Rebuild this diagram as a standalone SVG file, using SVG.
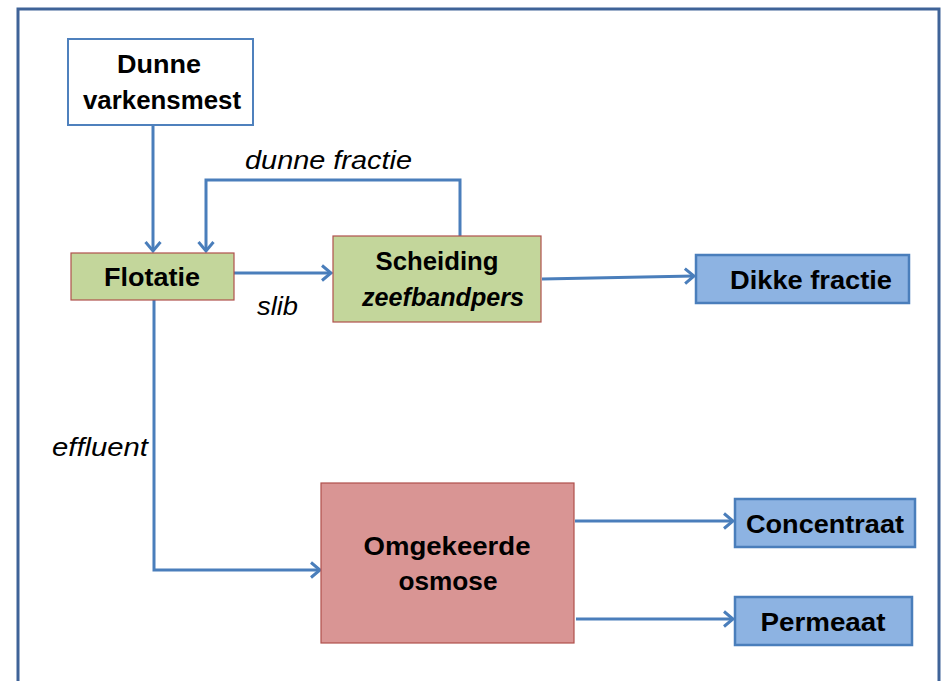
<svg xmlns="http://www.w3.org/2000/svg" width="941" height="681" viewBox="0 0 941 681">
<style>
.lbl{font-family:"Liberation Sans",Arial,sans-serif;font-weight:bold;font-size:25px;fill:#000;text-anchor:middle}
.it{font-family:"Liberation Sans",Arial,sans-serif;font-style:italic;font-size:25px;fill:#000}
.con{fill:none;stroke:#4a7ebb;stroke-width:3}
.green{fill:#c3d69b;stroke:#b0504c;stroke-width:1.2}
.blue{fill:#8db3e2;stroke:#4a7ebb;stroke-width:2.5}
</style>
<defs>
<marker id="arr" markerWidth="16" markerHeight="18" refX="12" refY="9" orient="auto" markerUnits="userSpaceOnUse">
<path d="M3,1.5 L12,9 L3,16.5" fill="none" stroke="#4a7ebb" stroke-width="3"/>
</marker>
</defs>
<rect x="0" y="0" width="941" height="681" fill="#fff"/>
<path d="M18,690 L18,9 L939,9 L939,690" fill="none" stroke="#3f6398" stroke-width="3"/>
<g id="connectors">
<path class="con" d="M153,125 L153,251" marker-end="url(#arr)"/>
<path class="con" d="M460,236 L460,180 L206,180 L206,251" marker-end="url(#arr)"/>
<path class="con" d="M234,273 L331,273" marker-end="url(#arr)"/>
<path class="con" d="M542,279 L694,276" marker-end="url(#arr)"/>
<path class="con" d="M154,300 L154,570 L320,570" marker-end="url(#arr)"/>
<path class="con" d="M575,521 L733,521" marker-end="url(#arr)"/>
<path class="con" d="M576,619 L733,619" marker-end="url(#arr)"/>
<text class="it" x="245" y="169" textLength="167" lengthAdjust="spacingAndGlyphs">dunne fractie</text>
<text class="it" x="257" y="315" textLength="41" lengthAdjust="spacingAndGlyphs">slib</text>
<text class="it" x="52" y="456" textLength="96" lengthAdjust="spacingAndGlyphs">effluent</text>
</g>
<g id="dunne-varkensmest">
<rect x="68" y="39" width="185" height="86" fill="#fff" stroke="#4f81bd" stroke-width="2"/>
<text class="lbl" x="159" y="73" textLength="84" lengthAdjust="spacingAndGlyphs">Dunne</text>
<text class="lbl" x="162" y="109" textLength="158" lengthAdjust="spacingAndGlyphs">varkensmest</text>
</g>
<g id="flotatie">
<rect class="green" x="71" y="253" width="163" height="47"/>
<text class="lbl" x="152" y="286" textLength="96" lengthAdjust="spacingAndGlyphs">Flotatie</text>
</g>
<g id="scheiding">
<rect class="green" x="333" y="236" width="208" height="86"/>
<text class="lbl" x="437" y="270" textLength="123" lengthAdjust="spacingAndGlyphs">Scheiding</text>
<text class="lbl" x="443" y="306" font-style="italic" textLength="162" lengthAdjust="spacingAndGlyphs">zeefbandpers</text>
</g>
<g id="dikke-fractie">
<rect class="blue" x="696" y="255" width="213" height="48"/>
<text class="lbl" x="811" y="289" textLength="162" lengthAdjust="spacingAndGlyphs">Dikke fractie</text>
</g>
<g id="omgekeerde-osmose">
<rect x="321" y="483" width="253" height="160" fill="#d99594" stroke="#b0504c" stroke-width="1.2"/>
<text class="lbl" x="447" y="555" textLength="167" lengthAdjust="spacingAndGlyphs">Omgekeerde</text>
<text class="lbl" x="448" y="590" textLength="99" lengthAdjust="spacingAndGlyphs">osmose</text>
</g>
<g id="concentraat">
<rect class="blue" x="735" y="499" width="180" height="48"/>
<text class="lbl" x="825" y="533" textLength="158" lengthAdjust="spacingAndGlyphs">Concentraat</text>
</g>
<g id="permeaat">
<rect class="blue" x="735" y="597" width="177" height="48"/>
<text class="lbl" x="823" y="631" textLength="125" lengthAdjust="spacingAndGlyphs">Permeaat</text>
</g>
</svg>
